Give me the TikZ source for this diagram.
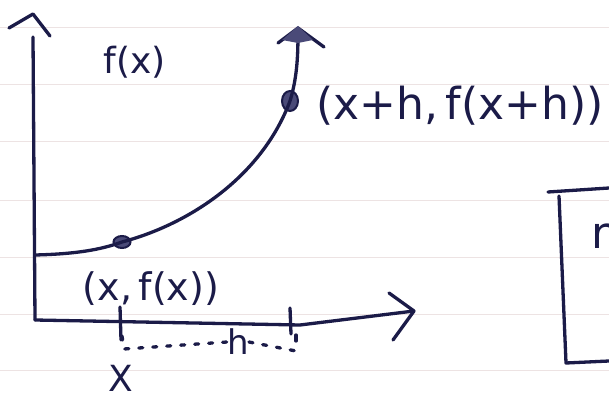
\documentclass[tikz,border=0pt]{standalone}
\usepackage{fontspec}
\setsansfont{DejaVu Sans}
\begin{document}
\begin{tikzpicture}[x=1pt,y=-1pt,
  ink/.style={draw=inkc,line width=3.3pt,line cap=round,line join=round},
  rule/.style={draw=rulec,line width=1pt},
  dotpt/.style={ellipse,fill=dotc,draw=inkc,line width=2pt,inner sep=0pt},
  lbl/.style={text=inkc,font=\sffamily,inner sep=0pt}]
\definecolor{inkc}{HTML}{1B1B48}
\definecolor{dotc}{HTML}{4A4A78}
\definecolor{rulec}{HTML}{EDE3E3}
\usetikzlibrary{shapes.geometric}
\clip (0,0) rectangle (609,403);
\fill[white] (0,0) rectangle (609,403);
% notebook rules
\foreach \yy in {28,85,142,200,257,314,370} {\draw[rule] (0,\yy) -- (609,\yy);}
% axes
\coordinate (O) at (35,320);
\coordinate (ytop) at (33,37);
\coordinate (xend) at (414,311);
\draw[ink] (O) -- (ytop);
\draw[ink] (9,28) -- (33,14) -- (50,36);
\draw[ink] (O) -- (300,325) -- (xend);
\draw[ink] (389,293) -- (xend) -- (393,340);
% ticks
\draw[ink] (120,307) -- (121,340);
\draw[ink] (290,308) -- (291,334);
% h bracket
\node[lbl,font=\sffamily\fontsize{34}{38}\selectfont] (h) at (238,342) {h};
\draw[ink,dash pattern=on 4pt off 10pt] (122,336) -- (124,349) -- (h.west);
\draw[ink,dash pattern=on 4pt off 10pt] (h.east) -- (296,351);
\draw[ink] (296,335) -- (296,341);
% points
\node[dotpt,minimum width=17pt,minimum height=12pt] (p1) at (122,242) {};
\node[dotpt,minimum width=16pt,minimum height=20pt] (p2) at (290,101) {};
% curve
\coordinate (cstart) at (35,255);
\coordinate (ctop) at (298,28);
\draw[ink] (cstart) .. controls (75,254) and (100,250) .. (p1.center)
  .. controls (190,224) and (262,176) .. (p2.center)
  .. controls (298,75) and (298,50) .. (ctop);
\draw[ink] (278,43) -- (ctop) -- (324,47);
\fill[dotc] (282,40) -- (298,26) -- (313,40) -- (298,43) -- cycle;
% labels
\node[lbl,font=\sffamily\fontsize{36}{40}\selectfont] (fx) at (135,62) {f(x)};
\node[lbl,font=\sffamily\fontsize{44}{50}\selectfont] (p2l) at (460,106) {(x+h,\,f(x+h))};
\node[lbl,font=\sffamily\fontsize{38}{44}\selectfont] (p1l) at (151,289) {(x,\,f(x))};
\node[lbl,font=\sffamily\fontsize{36}{40}\selectfont] (xl) at (121,378) {X};
% right box (partly outside)
\draw[ink] (548,192) -- (609,188);
\draw[ink] (559,196) -- (566,363) -- (609,361);
\node[lbl,font=\sffamily\fontsize{44}{48}\selectfont,anchor=west] (r) at (591,236) {r};
\end{tikzpicture}
\end{document}
